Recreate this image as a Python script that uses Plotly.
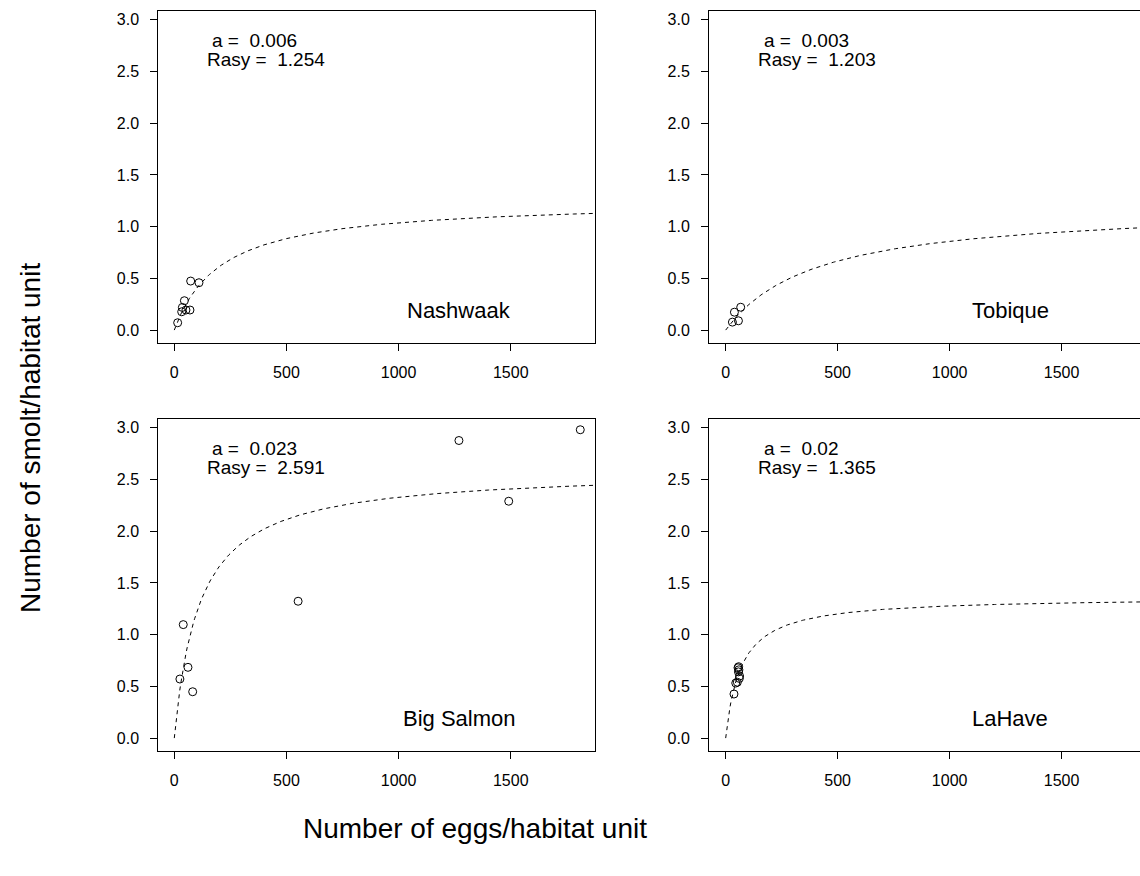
import numpy as np
import plotly.graph_objects as go

W, H = 1140, 876

rivers = ["Nashwaak", "Tobique", "Big Salmon", "LaHave"]
a_vals = [0.006, 0.003, 0.023, 0.02]
rasy_vals = [1.254, 1.203, 2.591, 1.365]

nashwaak_eggs = [15, 73, 110, 45, 36, 33, 52, 70]
nashwaak_smolt = [0.071, 0.474, 0.458, 0.284, 0.219, 0.177, 0.194, 0.194]
tobique_eggs = [30, 57, 39, 67]
tobique_smolt = [0.077, 0.090, 0.173, 0.221]
bigsalmon_eggs = [25, 40, 61, 82, 552, 1269, 1491, 1810]
bigsalmon_smolt = [0.571, 1.097, 0.684, 0.448, 1.323, 2.877, 2.290, 2.981]
lahave_eggs = [37, 45, 52, 61, 62, 57, 55, 58, 59]
lahave_smolt = [0.426, 0.532, 0.540, 0.577, 0.600, 0.640, 0.680, 0.690, 0.660]

x_ticks = [0, 500, 1000, 1500]
x_tick_labels = ["0", "500", "1000", "1500"]
y_ticks = [0.0, 0.5, 1.0, 1.5, 2.0, 2.5, 3.0]
y_tick_labels = ["0.0", "0.5", "1.0", "1.5", "2.0", "2.5", "3.0"]

x_title = "Number of eggs/habitat unit"
y_title = "Number of smolt/habitat unit"

eggs = [nashwaak_eggs, tobique_eggs, bigsalmon_eggs, lahave_eggs]
smolt = [nashwaak_smolt, tobique_smolt, bigsalmon_smolt, lahave_smolt]

FONT = "Liberation Sans, Arial, Helvetica, sans-serif"

# panel geometry (pixels)
x_domains = [[158.3 / W, 595.3 / W], [709 / W, 1.0]]
y_domains = [[(H - 342.7) / H, (H - 11) / H], [(H - 750.7) / H, (H - 419) / H]]
x_ranges = [[-71.3, 1877], [-74.5, 1850]]
y_range = [-0.122, 3.085]

fig = go.Figure()
annotations = []

for i in range(4):
    row, col = divmod(i, 2)
    n = i + 1
    xa = "x" if n == 1 else f"x{n}"
    ya = "y" if n == 1 else f"y{n}"
    # fitted Beverton-Holt curve from the parameters printed in the panel
    e = np.linspace(0, 1900, 400)
    r = a_vals[i] * e / (1 + a_vals[i] * e / rasy_vals[i])
    fig.add_trace(go.Scatter(x=e, y=r, mode="lines", xaxis=xa, yaxis=ya,
                             line=dict(color="black", width=1, dash="4px,4px"),
                             showlegend=False, hoverinfo="skip"))
    fig.add_trace(go.Scatter(x=eggs[i], y=smolt[i], mode="markers", xaxis=xa, yaxis=ya,
                             marker=dict(symbol="circle-open", size=8, color="black",
                                         line=dict(width=1, color="black")),
                             showlegend=False))
    axis_common = dict(showgrid=False, zeroline=False, showline=True, linecolor="black",
                       linewidth=1, ticks="outside", ticklen=7, tickcolor="black",
                       tickwidth=1, tickfont=dict(family=FONT, size=16, color="black"))
    fig.layout[("xaxis" if n == 1 else f"xaxis{n}")] = dict(
        domain=x_domains[col], range=x_ranges[col], anchor=ya, mirror=True,
        tickmode="array", tickvals=x_ticks, ticktext=x_tick_labels,
        ticklabelstandoff=8, **axis_common)
    fig.layout[("yaxis" if n == 1 else f"yaxis{n}")] = dict(
        domain=y_domains[row], range=y_range, anchor=xa, mirror=(col == 0),
        tickmode="array", tickvals=y_ticks, ticktext=y_tick_labels,
        ticklabelstandoff=8, **axis_common)
    annotations.append(dict(x=160, y=2.80, xref=xa, yref=ya, xanchor="left", yanchor="middle",
                            text="a = \u00a0" + str(a_vals[i]), showarrow=False,
                            font=dict(family=FONT, size=19, color="black")))
    annotations.append(dict(x=135, y=2.62, xref=xa, yref=ya, xanchor="left", yanchor="middle",
                            text="Rasy = \u00a0" + str(rasy_vals[i]), showarrow=False,
                            font=dict(family=FONT, size=19, color="black")))
    annotations.append(dict(x=1270, y=0.19, xref=xa, yref=ya, xanchor="center", yanchor="middle",
                            text=rivers[i], showarrow=False,
                            font=dict(family=FONT, size=22, color="black")))

annotations.append(dict(x=475 / W, y=(H - 828) / H, xref="paper", yref="paper",
                        xanchor="center", yanchor="middle", text=x_title, showarrow=False,
                        font=dict(family=FONT, size=28, color="black")))
annotations.append(dict(x=30 / W, y=(H - 438) / H, xref="paper", yref="paper",
                        xanchor="center", yanchor="middle", text=y_title, showarrow=False,
                        textangle=-90, font=dict(family=FONT, size=28, color="black")))

fig.update_layout(width=W, height=H, margin=dict(l=0, r=0, t=0, b=0),
                  paper_bgcolor="white", plot_bgcolor="white",
                  annotations=annotations, showlegend=False)

fig.write_html("out.html")
